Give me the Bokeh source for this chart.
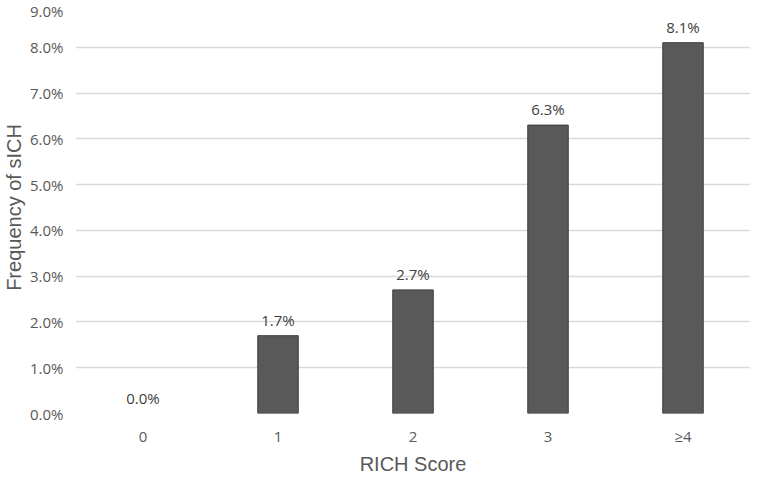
from bokeh.plotting import figure
from bokeh.models import ColumnDataSource, FactorRange, Range1d, NumeralTickFormatter, FixedTicker
from bokeh.embed import file_html
from bokeh.resources import INLINE
from bokeh.core.properties import value

categories = ["0", "1", "2", "3", "≥4"]
frequency = [0.000, 0.017, 0.027, 0.063, 0.081]
y_ticks = [0.00, 0.01, 0.02, 0.03, 0.04, 0.05, 0.06, 0.07, 0.08, 0.09]

labels = [f"{v * 100:.1f}%" for v in frequency]
outline = [0.0 if v == 0 else 1.0 for v in frequency]
src = ColumnDataSource(dict(cat=categories, val=frequency, lab=labels, la=outline))

FONT = "Open Sans"
TITLE_FONT = "Liberation Sans"

p = figure(width=750, height=477, output_backend="svg", toolbar_location=None,
           x_range=FactorRange(*categories, range_padding=0),
           y_range=Range1d(0, 0.09))
p.min_border_left = 72
p.min_border_right = 0
p.min_border_top = 1
p.min_border_bottom = 56
p.outline_line_color = None
p.background_fill_color = "white"
p.border_fill_color = "white"

p.vbar(x="cat", top="val", width=0.3, source=src,
       fill_color="#595959", line_color="#3f3f3f", line_width=1, line_alpha="la")

p.text(x="cat", y="val", text="lab", source=src, text_align="center",
       text_baseline="bottom", y_offset=-6, text_color="#404040",
       text_font=value(FONT), text_font_size="15px")

p.yaxis.ticker = FixedTicker(ticks=y_ticks)
p.yaxis.formatter = NumeralTickFormatter(format="0.0%")

for ax in (p.xaxis[0], p.yaxis[0]):
    ax.axis_line_color = None
    ax.major_tick_line_color = None
    ax.minor_tick_line_color = None
    ax.major_tick_out = 0
    ax.major_tick_in = 0
    ax.minor_tick_out = 0
    ax.minor_tick_in = 0
    ax.major_label_text_color = "#595959"
    ax.major_label_text_font = FONT
    ax.major_label_text_font_size = "15px"
    ax.axis_label_text_color = "#595959"
    ax.axis_label_text_font = TITLE_FONT
    ax.axis_label_text_font_size = "20px"
    ax.axis_label_text_font_style = "normal"

p.xaxis.axis_label = "RICH Score"
p.yaxis.axis_label = "Frequency of sICH"
p.xaxis.major_label_standoff = 12
p.yaxis.major_label_standoff = 12
p.xaxis.axis_label_standoff = 4
p.yaxis.axis_label_standoff = 2

p.xgrid.grid_line_color = None
p.ygrid.grid_line_color = "#d9d9d9"
p.ygrid.grid_line_width = 1.5

open("out.html", "w").write(file_html(p, INLINE))
